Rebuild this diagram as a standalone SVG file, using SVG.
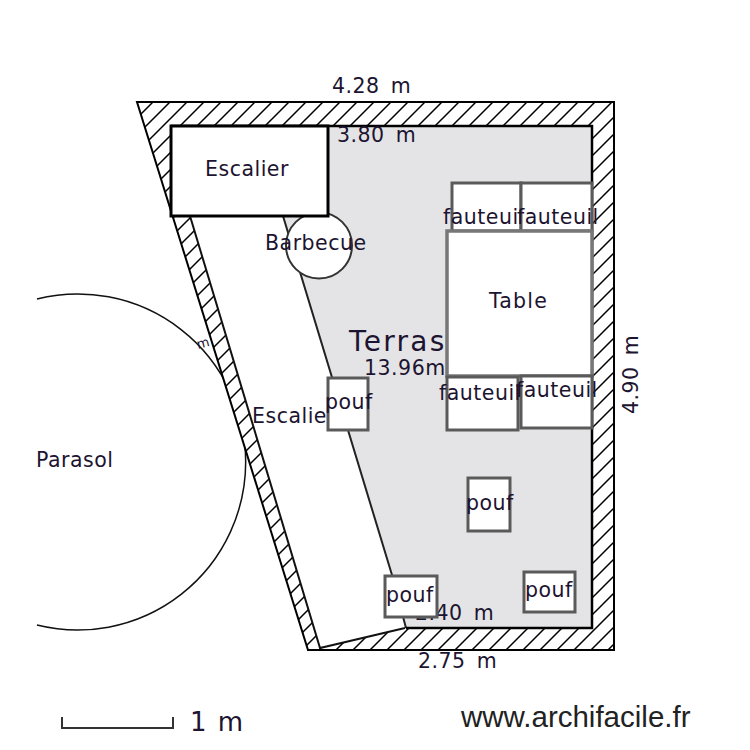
<svg xmlns="http://www.w3.org/2000/svg" width="750" height="750" viewBox="0 0 750 750">
<style>
text{font-family:"DejaVu Sans",Verdana,sans-serif;font-size:20.500px;letter-spacing:.5px;word-spacing:4px;fill:#1c1430}
.wall{fill:url(#hatch);stroke:#000;stroke-width:2}
.f{fill:#fff;stroke:#5a5a5a;stroke-width:3}
.t{fill:#fff;stroke:#777;stroke-width:3.500}
text.big{font-size:28px;letter-spacing:2.300px}
text.one{font-size:26px;letter-spacing:.5px;word-spacing:2px}
text.url{font-family:"Liberation Sans",Arial,sans-serif;font-size:29.500px;letter-spacing:0;word-spacing:0;fill:#222}
.e{stroke:#333;stroke-width:2;fill:none}
</style>
<defs>
<pattern id="hatch" patternUnits="userSpaceOnUse" width="17" height="17">
<rect width="17" height="17" fill="#fff"/>
<path d="M-2 19L19 -2M-4 4L4 -4M13 21L21 13" stroke="#000" stroke-width="1.500" fill="none"/>
</pattern>
</defs>
<rect width="750" height="750" fill="#fff"/>
<g id="parasol">
<path d="M37 299A168 168 0 1 1 37 625" fill="#fff" stroke="#111" stroke-width="1.500"/>
<text x="36" y="467">Parasol</text>
<text transform="translate(198 349) rotate(-15)" style="font-size:13px;letter-spacing:0">m</text>
</g>
<g id="walls">
<path class="wall" d="M137 102H614V650H308Z"/>
<path d="M171 126H592V628H405L320 648L190 216H171Z" fill="#fff" stroke="none"/>
<path d="M190 216L320 648L405 628" fill="none" stroke="#111" stroke-width="2"/>
<path d="M283 216L392 575L406 628H592V126H171V216Z" fill="#e4e4e6"/>
<path d="M283 216L392 575L406 628" fill="none" stroke="#222" stroke-width="2"/>
<path d="M171 126H592V628H406" fill="none" stroke="#000" stroke-width="2.500"/>
</g>
<g id="escalier-bas"><text x="252" y="423">Escalie</text></g>
<g id="terrasse">
<text class="big" x="349" y="351">Terras</text>
<text x="364" y="375">13.96m</text>
<text x="415" y="620">2.40 m</text>
</g>
<g id="dimensions">
<text x="332" y="93">4.28 m</text>
<text x="337" y="142">3.80 m</text>
<text x="418" y="668">2.75 m</text>
<text transform="translate(638 414) rotate(-90)">4.90 m</text>
</g>
<g id="barbecue">
<circle cx="319" cy="245.500" r="33" fill="#fff" stroke="#333" stroke-width="2"/>
<text x="265" y="250">Barbecue</text>
</g>
<g id="stairs">
<rect x="171" y="126" width="157" height="90" fill="#fff" stroke="#000" stroke-width="3"/>
<text x="205" y="176">Escalier</text>
</g>
<g id="fauteuil1"><rect class="f" x="452" y="183" width="69" height="48"/><text x="443" y="224">fauteuil</text></g>
<g id="fauteuil2"><rect class="f" x="521" y="183" width="71" height="48"/><text x="517" y="224">fauteuil</text></g>
<g id="table"><rect class="t" x="447" y="231" width="145" height="145"/><text x="489" y="308" style="letter-spacing:1.200px">Table</text></g>
<g id="fauteuil3"><rect class="f" x="447" y="377" width="71" height="53"/><text x="439" y="400">fauteuil</text></g>
<g id="fauteuil4"><rect class="f" x="521" y="376" width="71" height="52"/><text x="516" y="397">fauteuil</text></g>
<g id="pouf1"><rect class="f" x="328" y="378" width="40" height="52"/><text x="325" y="409">pouf</text></g>
<g id="pouf2"><rect class="f" x="468" y="478" width="42" height="53"/><text x="466" y="510">pouf</text></g>
<g id="pouf3"><rect class="f" x="385" y="576" width="52" height="41"/><text x="386" y="602">pouf</text></g>
<g id="pouf4"><rect class="f" x="524" y="572" width="51" height="40"/><text x="525" y="597">pouf</text></g>
<g id="scale">
<path class="e" d="M62 717V728H173V717"/>
<text class="one" x="190" y="731">1 m</text>
</g>
<g id="credit"><text class="url" x="461" y="727">www.archifacile.fr</text></g>
</svg>
